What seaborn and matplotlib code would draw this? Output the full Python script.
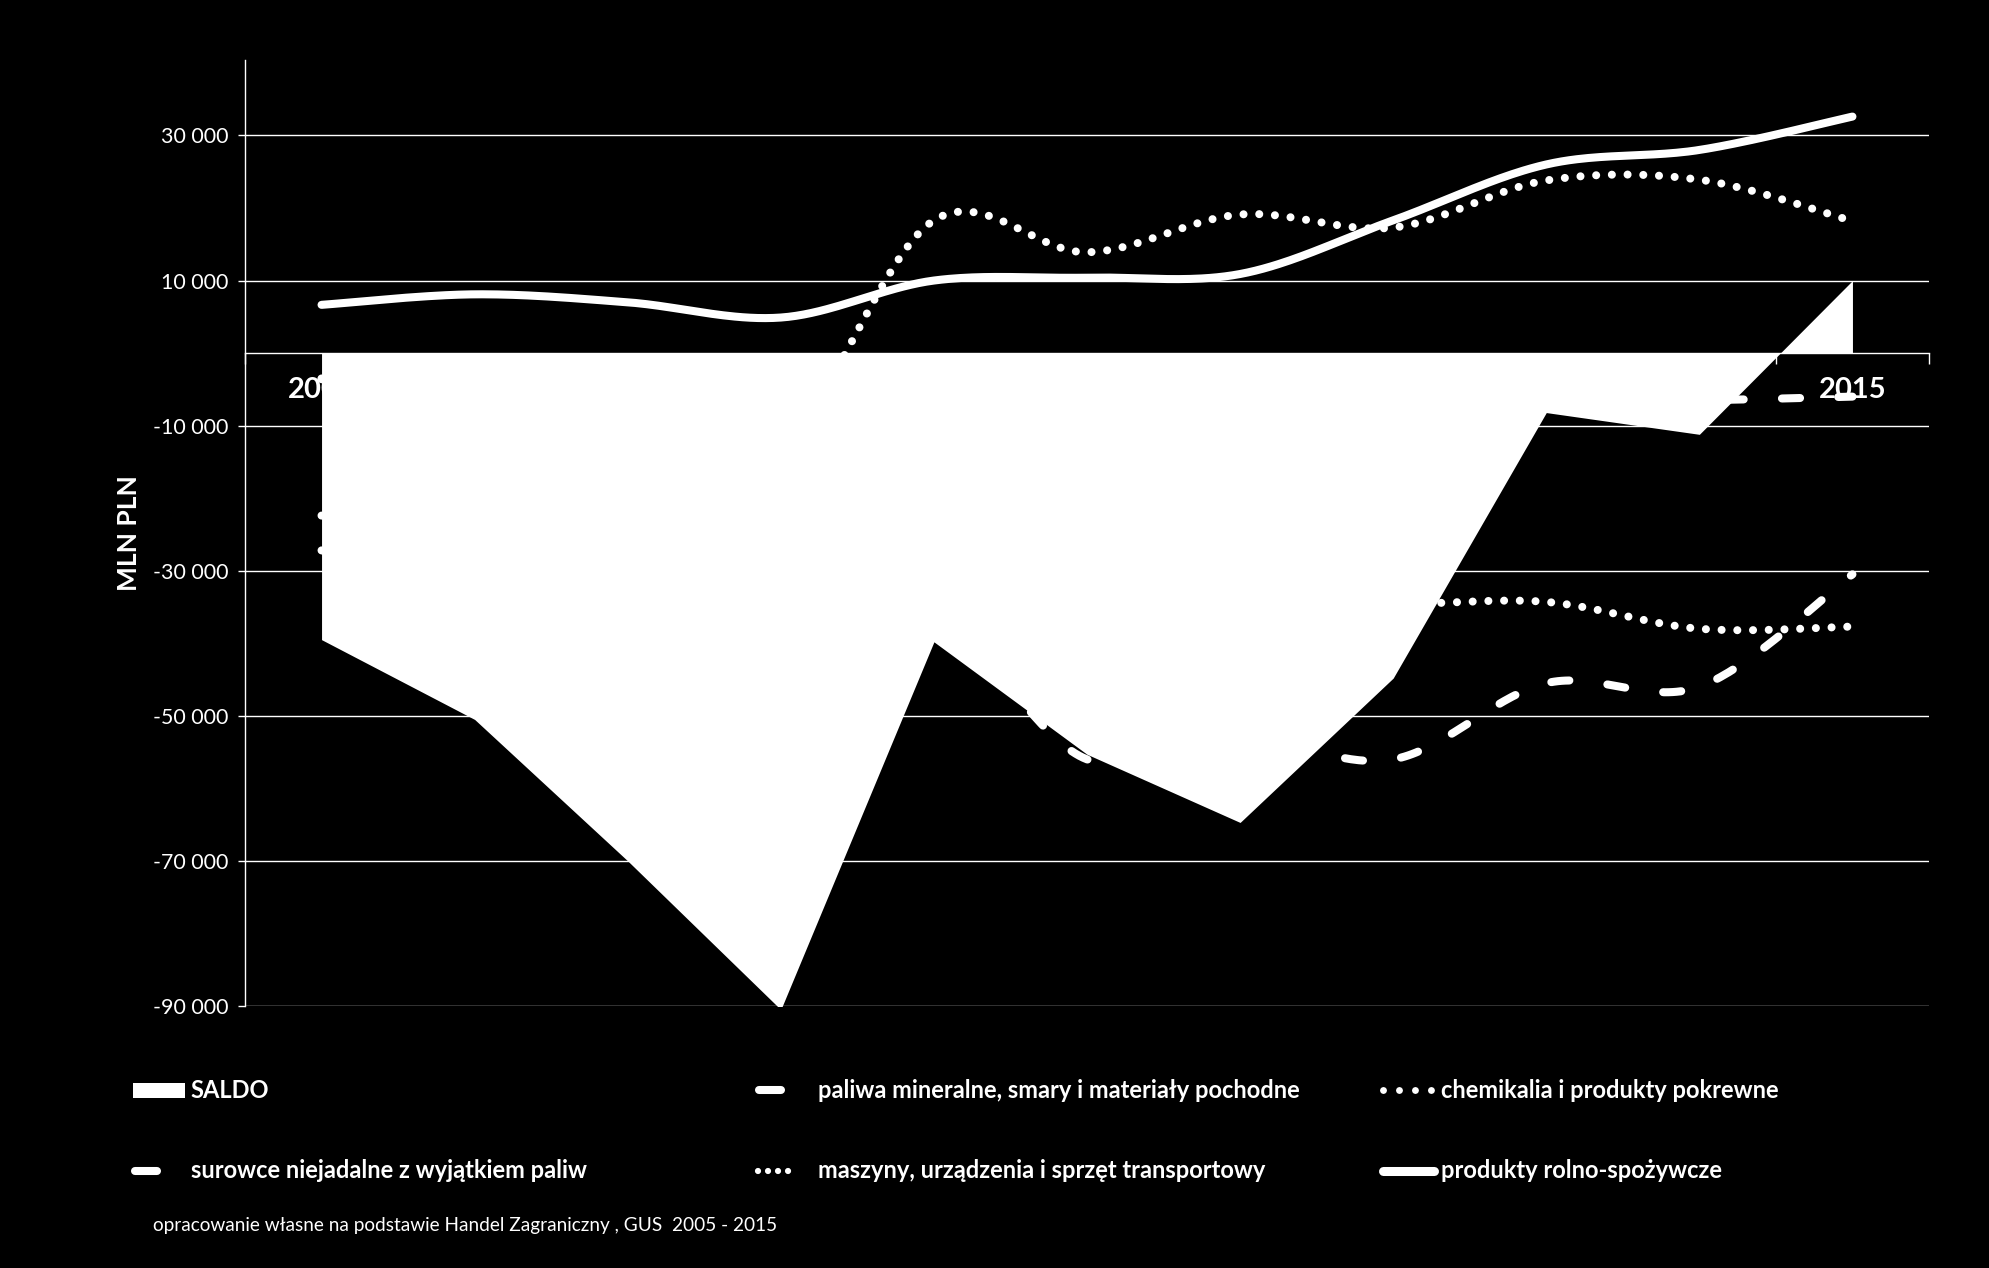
import numpy as np
import matplotlib
matplotlib.use("Agg")
import matplotlib.pyplot as plt
import seaborn as sns
from matplotlib.lines import Line2D
from matplotlib.patches import Rectangle

# ---------------- data (mln PLN) ----------------
years = ["2005", "2006", "2007", "2008", "2009", "2010",
         "2011", "2012", "2013", "2014", "2015"]
saldo = [-39500, -50500, -70000, -90500, -39800, -55300,
         -64700, -44800, -8200, -11200, 10000]
paliwa = [-27200, -30000, -33000, -45000, -37000, -56000,
          -53000, -56000, -45500, -46000, -30500]
chemikalia = [-22400, -25000, -28000, -32000, -28000, -31000,
              -33000, -34500, -34300, -38000, -37700]
surowce = [-3600, -5500, -7000, -7500, -4500, -7500,
           -9000, -7500, -6500, -6500, -6000]
maszyny = [-3500, -5000, -10000, -12500, 18300, 13900,
           19100, 17300, 23800, 23900, 18200]
rolno = [6650, 8100, 7000, 4900, 10000, 10400,
         10900, 18300, 26000, 28000, 32600]
yticks = [-90000, -70000, -50000, -30000, -10000, 10000, 30000]

lab_saldo = "SALDO"
lab_paliwa = "paliwa mineralne, smary i materiały pochodne"
lab_chem = "chemikalia i produkty pokrewne"
lab_sur = "surowce niejadalne z wyjątkiem paliw"
lab_masz = "maszyny, urządzenia i sprzęt transportowy"
lab_rolno = "produkty rolno-spożywcze"
source = "opracowanie własne na podstawie Handel Zagraniczny , GUS  2005 - 2015"


def smooth(vals, n=40):
    """Excel-like smoothed line (Bezier through the data points)."""
    P = np.column_stack([np.arange(len(vals), dtype=float), np.asarray(vals, float)])
    out = []
    m = len(P)
    for i in range(m - 1):
        p0 = P[i - 1] if i > 0 else P[i]
        p3 = P[i + 2] if i + 2 < m else P[i + 1]
        p1, p2 = P[i], P[i + 1]
        c1 = p1 + (p2 - p0) / 6.0
        c2 = p2 - (p3 - p1) / 6.0
        t = np.linspace(0, 1, n, endpoint=(i == m - 2))[:, None]
        seg = (1 - t) ** 3 * p1 + 3 * (1 - t) ** 2 * t * c1 + 3 * (1 - t) * t ** 2 * c2 + t ** 3 * p2
        out.append(seg)
    return np.vstack(out)


sns.set_theme(style="ticks")
plt.rcParams["font.family"] = ["Lato", "DejaVu Sans"]

W, H = 1989, 1268
fig = plt.figure(figsize=(W / 100, H / 100), dpi=100, facecolor="black")
ax = fig.add_axes([245 / W, (H - 1006) / H, (1929 - 245) / W, (1006 - 60) / H])
ax.set_facecolor("black")

x = np.arange(len(years))
ax.set_xlim(-0.5, len(years) - 0.5)
ax.set_ylim(-90000, 40400)

# grid
ax.set_axisbelow(True)
ax.yaxis.grid(True, color="white", lw=1.0)
ax.xaxis.grid(False)

DOT = (0, (0.001, 1.95))
DASH = (0, (2.25, 4.75))
LW = 5.8

series = [
    (paliwa, DASH),
    (chemikalia, DOT),
    (surowce, DASH),
    (maszyny, DOT),
    (rolno, "-"),
]
for vals, ls in series:
    pts = smooth(vals)
    sns.lineplot(x=pts[:, 0], y=pts[:, 1], ax=ax, color="white", lw=LW,
                 linestyle=ls, sort=False, estimator=None, legend=False,
                 dash_capstyle="round", solid_capstyle="round", zorder=3)

# SALDO area
ax.fill_between(x, 0, saldo, color="white", lw=0, zorder=4)

# spines
for s in ["top", "right"]:
    ax.spines[s].set_visible(False)
ax.spines["left"].set_color("white")
ax.spines["left"].set_linewidth(1.0)
ax.spines["bottom"].set_position(("data", 0))
ax.spines["bottom"].set_color("white")
ax.spines["bottom"].set_linewidth(1.0)

# ticks
ax.set_yticks(yticks)
ax.set_yticklabels([f"{v:,}".replace(",", " ") for v in yticks])
ax.tick_params(axis="y", colors="white", labelcolor="white", length=5, width=1,
               direction="out", pad=7, labelsize=15.4)
ax.set_xticks(np.arange(-0.5, len(years), 1.0))
ax.set_xticklabels([])
ax.set_xticks(x, minor=True)
ax.set_xticklabels(years, minor=True, fontweight="bold", fontsize=21, color="white")
ax.tick_params(axis="x", which="major", colors="white", length=8, width=1, direction="out")
ax.tick_params(axis="x", which="minor", length=0, pad=17, labelcolor="white")

ax.set_ylabel("MLN PLN", color="white", fontsize=19, fontweight="bold")
ax.yaxis.set_label_coords(-0.062, 0.5)

# ---------------- legend (drawn in figure pixels) ----------------
def fx(p):
    return p / W


def fy(p):
    return 1 - p / H


LFS = 17
r1, r2 = 1090, 1171
fig.add_artist(Rectangle((fx(133), fy(r1 + 7.5)), 52 / W, 15 / H,
                         transform=fig.transFigure, facecolor="white", edgecolor="none"))
fig.text(fx(190), fy(r1), lab_saldo, color="white", fontsize=LFS, fontweight="bold", va="center")

fig.add_artist(Line2D([fx(759), fx(781)], [fy(r1)] * 2, transform=fig.transFigure,
                      color="white", lw=5.8, solid_capstyle="round"))
fig.text(fx(818), fy(r1), lab_paliwa, color="white", fontsize=LFS, fontweight="bold", va="center")

fig.add_artist(Line2D([fx(1383), fx(1431.5)], [fy(r1)] * 2, transform=fig.transFigure,
                      color="white", lw=5.0, linestyle=(0, (0.001, 2.3)), dash_capstyle="round"))
fig.text(fx(1441), fy(r1), lab_chem, color="white", fontsize=LFS, fontweight="bold", va="center")

fig.add_artist(Line2D([fx(135), fx(157)], [fy(r2)] * 2, transform=fig.transFigure,
                      color="white", lw=5.8, solid_capstyle="round"))
fig.text(fx(191), fy(r2), lab_sur, color="white", fontsize=LFS, fontweight="bold", va="center")

fig.add_artist(Line2D([fx(758), fx(789)], [fy(r2)] * 2, transform=fig.transFigure,
                      color="white", lw=4.5, linestyle=(0, (0.001, 1.6)), dash_capstyle="round"))
fig.text(fx(818), fy(r2), lab_masz, color="white", fontsize=LFS, fontweight="bold", va="center")

fig.add_artist(Line2D([fx(1383), fx(1434)], [fy(r2)] * 2, transform=fig.transFigure,
                      color="white", lw=6.5, solid_capstyle="round"))
fig.text(fx(1441), fy(r2), lab_rolno, color="white", fontsize=LFS, fontweight="bold", va="center")

fig.text(fx(153), fy(1226), source, color="white", fontsize=13.7, va="center")

fig.savefig("out.png", dpi=100, facecolor="black")
